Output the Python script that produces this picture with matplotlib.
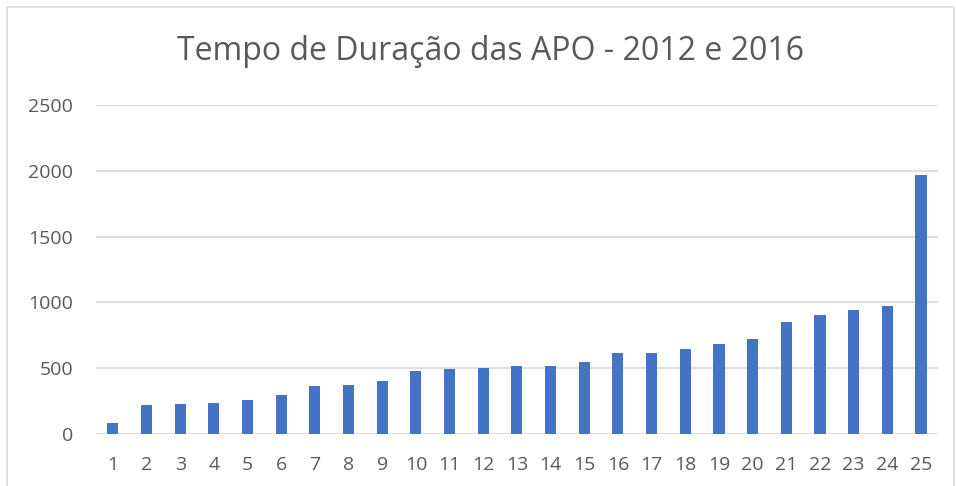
import matplotlib
matplotlib.use('Agg')
import matplotlib.pyplot as plt
from matplotlib.patches import Rectangle

# dados
apo = list(range(1, 26))
duracao = [80, 222, 227, 232, 255, 298, 361, 369, 404, 475,
           496, 501, 517, 519, 549, 618, 618, 643, 686, 723,
           853, 906, 944, 969, 1965]
yticks = [0, 500, 1000, 1500, 2000, 2500]

plt.rcParams['font.family'] = ['Open Sans', 'DejaVu Sans']
grey = '#595959'

fig = plt.figure(figsize=(9.56, 4.86), dpi=100)
ax = fig.add_axes([0.1004, 0.107, 0.8806, 0.677])

ax.bar(apo, duracao, width=0.33, color='#4472C4', zorder=3)

ax.set_xlim(0.5, 25.5)
ax.set_ylim(0, 2500)
ax.set_yticks(yticks)
ax.set_xticks(apo)
ax.grid(axis='y', color='#d9d9d9', lw=1.2, zorder=0)
for s in ax.spines.values():
    s.set_visible(False)
ax.tick_params(length=0, labelsize=14, colors=grey)
ax.tick_params(axis='x', pad=16)
ax.tick_params(axis='y', pad=16.5)

fig.text(0.513, 0.895, 'Tempo de Duração das APO - 2012 e 2016',
         ha='center', va='center', fontsize=23, color=grey)

# borda da área do gráfico
fig.patches.append(Rectangle((0.0073, -0.02), 0.991, 1.0056, transform=fig.transFigure,
                             fill=False, edgecolor='#d9d9d9', lw=1.2))

fig.savefig('out.png', dpi=100)
